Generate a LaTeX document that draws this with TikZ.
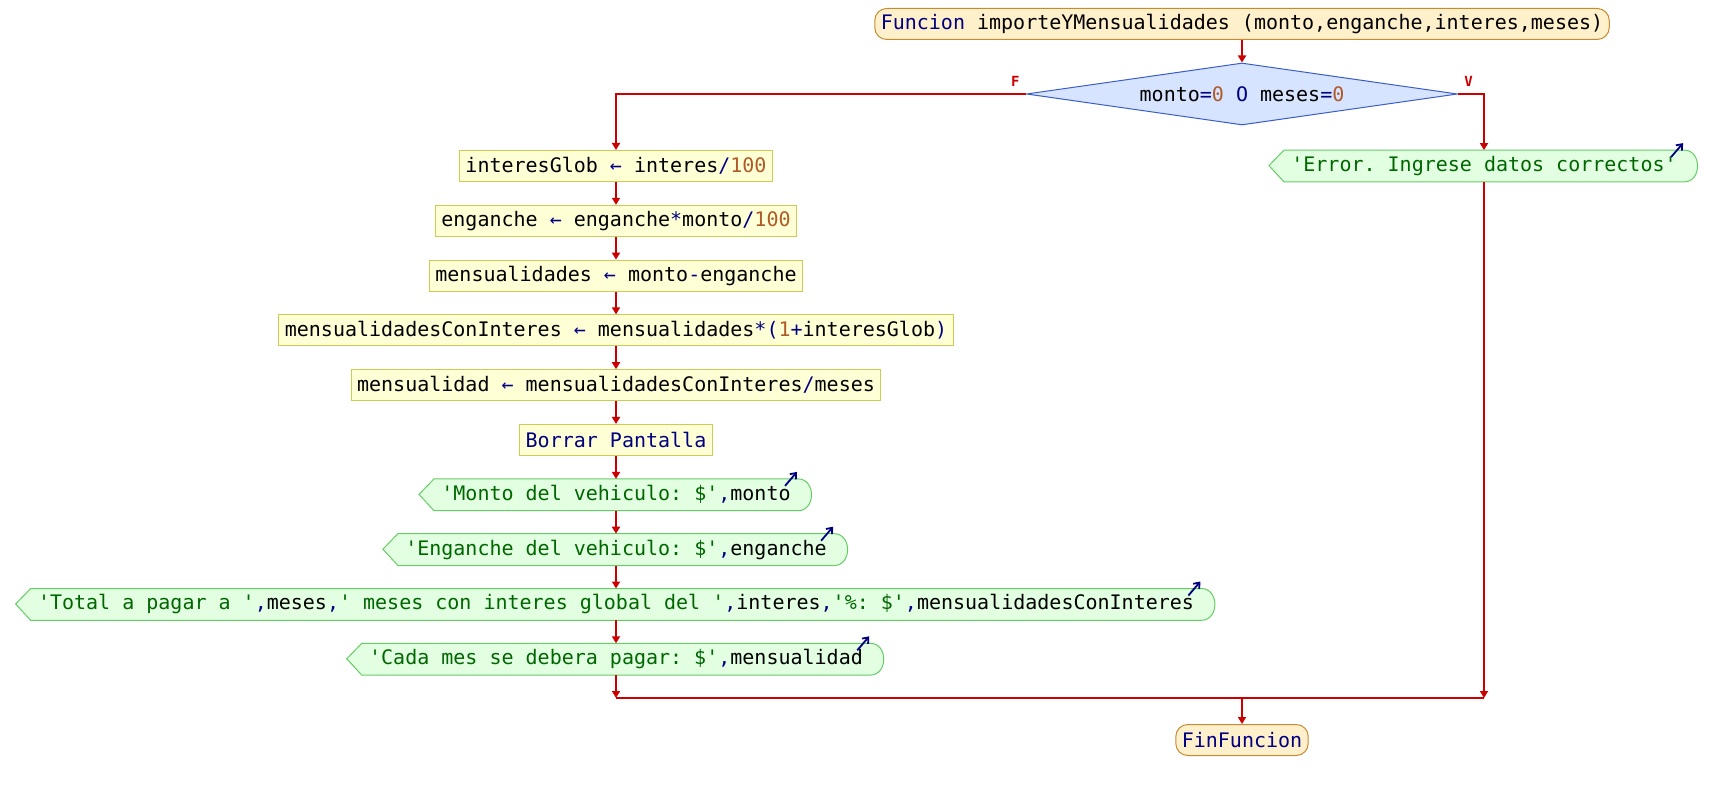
\documentclass[tikz,border=0pt]{standalone}
\usepackage{fontspec}
\setmonofont{DejaVu Sans Mono}
\usetikzlibrary{positioning,arrows.meta,backgrounds,calc,shapes.geometric}

\definecolor{flecha}{HTML}{CC0000}
\definecolor{azulkw}{HTML}{000080}
\definecolor{numero}{HTML}{B05A28}
\definecolor{cadena}{HTML}{006600}
\definecolor{funfondo}{HTML}{FFF0CC}
\definecolor{funborde}{HTML}{C88A30}
\definecolor{asigfondo}{HTML}{FFFFD6}
\definecolor{asigborde}{HTML}{CCCC55}
\definecolor{decfondo}{HTML}{D6E4FF}
\definecolor{decborde}{HTML}{3C5CC8}
\definecolor{salfondo}{HTML}{E2FFE2}
\definecolor{salborde}{HTML}{66CC66}

\newcommand{\kw}[1]{\textcolor{azulkw}{#1}}
\newcommand{\nm}[1]{\textcolor{numero}{#1}}
\newcommand{\st}[1]{\textcolor{cadena}{#1}}

\begin{document}
\begin{tikzpicture}[
    x=0.5pt, y=-0.5pt,
    base/.style={font=\ttfamily\fontsize{10}{12}\selectfont, minimum height=15.5pt, inner ysep=0pt},
    funcion/.style={base, draw=funborde, fill=funfondo, rounded corners=6pt, inner xsep=3pt, line width=0.5pt},
    asignar/.style={base, draw=asigborde, fill=asigfondo, inner xsep=3pt, line width=0.5pt},
    decision/.style={base, diamond, aspect=7, inner sep=0pt, minimum width=215.5pt, minimum height=31pt, draw=decborde, fill=decfondo, line width=0.5pt},
    salida/.style={base, inner xsep=3.5pt},
    salbox/.style={draw=salborde, fill=salfondo, line width=0.5pt},
    leer/.style={-{Straight Barb[length=2.5pt,width=4pt]}, azulkw, line width=0.9pt},
    etiqueta/.style={font=\ttfamily\bfseries\fontsize{7}{8}\selectfont, text=flecha, inner sep=0pt},
    linea/.style={flecha, line width=1pt},
    arrow/.style={linea, -{Triangle[width=4pt,length=3.5pt]}}
]
\useasboundingbox (0,0) rectangle (1716,790);

\node[funcion]  (fun)   at (1242,24)  {\kw{Funcion} importeYMensualidades (monto,enganche,interes,meses)};
\node[decision] (cond)  at (1242,94)  {monto\kw{=}\nm{0} \kw{O} meses\kw{=}\nm{0}};
\node[etiqueta, above left=3.5pt and 3pt of cond.west]  {F};
\node[etiqueta, above right=3.5pt and 3pt of cond.east] {V};

% rama falsa
\node[asignar] (ig)    at (616,166)   {interesGlob \kw{←} interes\kw{/}\nm{100}};
\node[asignar] (eng)   at (616,220.8) {enganche \kw{←} enganche\kw{*}monto\kw{/}\nm{100}};
\node[asignar] (mens)  at (616,275.6) {mensualidades \kw{←} monto\kw{-}enganche};
\node[asignar] (mci)   at (616,330.4) {mensualidadesConInteres \kw{←} mensualidades\kw{*(}\nm{1}\kw{+}interesGlob\kw{)}};
\node[asignar] (mes)   at (616,385.2) {mensualidad \kw{←} mensualidadesConInteres\kw{/}meses};
\node[asignar] (borr)  at (616,440)   {\kw{Borrar Pantalla}};
\node[salida]  (monto) at (616,494.8) {\st{'Monto del vehiculo: \$'}\kw{,}monto};
\node[salida]  (engan) at (616,549.6) {\st{'Enganche del vehiculo: \$'}\kw{,}enganche};
\node[salida]  (total) at (616,604.4) {\st{'Total a pagar a '}\kw{,}meses\kw{,}\st{' meses con interes global del '}\kw{,}interes\kw{,}\st{'\%: \$'}\kw{,}mensualidadesConInteres};
\node[salida]  (cada)  at (616,659.2) {\st{'Cada mes se debera pagar: \$'}\kw{,}mensualidad};

% rama verdadera
\node[salida]  (error) at (1484,166)  {\st{'Error. Ingrese datos correctos'}};

\node[funcion] (fin)   at (1242,740)  {\kw{FinFuncion}};

\begin{scope}[on background layer]
\foreach \n in {error,monto,engan,total,cada}
  \draw[salbox] (\n.north west) -- ++(-15,15.5) -- (\n.south west) -- (\n.south east)
    .. controls +(18,0) and +(18,0) .. (\n.north east) -- cycle;
\end{scope}
\foreach \n in {error,monto,engan,total,cada}
  \draw[leer] ($(\n.north east)+(-13,7)$) -- ($(\n.north east)+(-1,-7)$);

\draw[arrow] (fun) -- (cond);
\draw[arrow] (cond.west) -| (ig);
\draw[arrow] (cond.east) -| (error);

\foreach \a/\b in {ig/eng, eng/mens, mens/mci, mci/mes, mes/borr, borr/monto, monto/engan, engan/total, total/cada}
  \draw[arrow] (\a) -- (\b);

\coordinate (junta) at (1242,698);
\draw[arrow] (cada) -- (cada |- junta);
\draw[arrow] (error) -- (error |- junta);
\draw[linea] (cada |- junta) -- (error |- junta);
\draw[arrow] (junta) -- (fin);

\end{tikzpicture}
\end{document}
